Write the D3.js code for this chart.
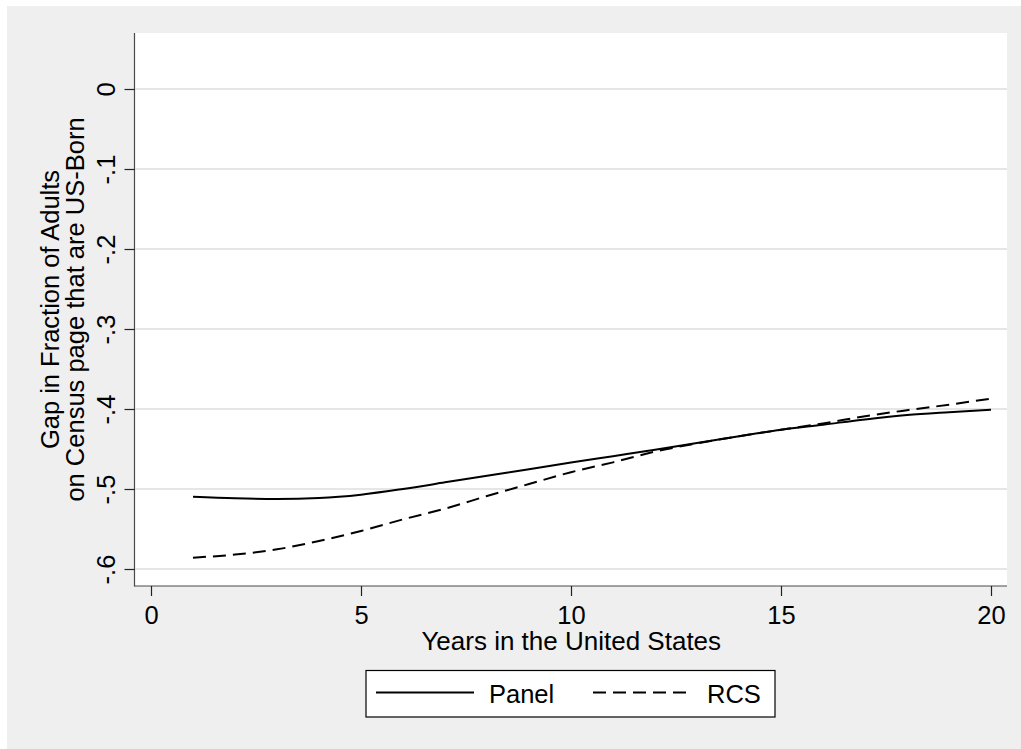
<!DOCTYPE html>
<html>
<head>
<meta charset="utf-8">
<script src="https://cdn.jsdelivr.net/npm/d3@7"></script>
<style>
  html, body { margin: 0; padding: 0; background: #ffffff; }
  svg { display: block; }
  text { font-family: "Liberation Sans", Arial, sans-serif; fill: #000; }
</style>
</head>
<body>
<svg id="chart" width="1021" height="749"></svg>
<script>
// Years since arrival
const years = [1, 2, 3, 4, 5, 6, 7, 8, 9, 10, 11, 12, 13, 14, 15, 16, 17, 18, 19, 20];

// Gap estimates, panel sample
const panel = [-0.5096, -0.5116, -0.5125, -0.5113, -0.5071, -0.5000, -0.4917, -0.4833, -0.4754, -0.4670,
               -0.4590, -0.4510, -0.4425, -0.4340, -0.4260, -0.4196, -0.4130, -0.4075, -0.4040, -0.4010];

// Gap estimates, repeated cross-section
const rcs = [-0.5858, -0.5820, -0.5754, -0.5650, -0.5525, -0.5380, -0.5246, -0.5088, -0.4938, -0.4790,
             -0.4667, -0.4533, -0.4430, -0.4340, -0.4260, -0.4180, -0.4090, -0.4015, -0.3946, -0.3870];

const xTicks = [0, 5, 10, 15, 20];
const yTicks = [-0.6, -0.5, -0.4, -0.3, -0.2, -0.1, 0];
const yTickLabels = ["-.6", "-.5", "-.4", "-.3", "-.2", "-.1", "0"];

const seriesNames = ["Panel", "RCS"];

const svg = d3.select("#chart");
const FONT = 25.5;

// plot region bounds
const plotLeft = 134.5, plotRight = 1007, plotTop = 33, plotBottom = 586;

// outer panel
svg.append("rect").attr("x", 7).attr("y", 6).attr("width", 1014).attr("height", 743).attr("fill", "#efefef");
svg.append("rect").attr("x", plotLeft).attr("y", plotTop).attr("width", plotRight - plotLeft)
  .attr("height", plotBottom - plotTop).attr("fill", "#ffffff");

const x = d3.scaleLinear().domain([0, 20]).range([151, 991]);
const y = d3.scaleLinear().domain([-0.6, 0]).range([569, 89]);

// horizontal grid
svg.append("g").selectAll("line").data(yTicks).join("line")
  .attr("x1", plotLeft + 1).attr("x2", plotRight)
  .attr("y1", d => y(d)).attr("y2", d => y(d))
  .attr("stroke", "#e6e6e6").attr("stroke-width", 2);

// axis lines
svg.append("line").attr("x1", plotLeft).attr("x2", plotLeft).attr("y1", plotTop).attr("y2", plotBottom + 0.5)
  .attr("stroke", "#4a4a4a").attr("stroke-width", 1.2);
svg.append("line").attr("x1", plotLeft).attr("x2", plotRight).attr("y1", plotBottom).attr("y2", plotBottom)
  .attr("stroke", "#4a4a4a").attr("stroke-width", 1.2);

// y axis
const yAxis = svg.append("g").attr("transform", `translate(${plotLeft},0)`)
  .call(d3.axisLeft(y).tickValues(yTicks).tickSize(10).tickSizeOuter(0)
    .tickFormat((d, i) => yTickLabels[i]));
yAxis.select(".domain").remove();
yAxis.selectAll(".tick line").attr("stroke", "#222").attr("stroke-width", 1.2);
yAxis.selectAll(".tick text")
  .attr("transform", "rotate(-90)")
  .attr("x", 0).attr("y", -19.5).attr("dy", 0)
  .attr("text-anchor", "middle")
  .style("font-size", FONT + "px")
  .style("font-family", '"Liberation Sans", Arial, sans-serif')
  .attr("fill", "#000");

// x axis
const xAxis = svg.append("g").attr("transform", `translate(0,${plotBottom})`)
  .call(d3.axisBottom(x).tickValues(xTicks).tickSize(10).tickSizeOuter(0).tickFormat(d3.format("d")));
xAxis.select(".domain").remove();
xAxis.selectAll(".tick line").attr("stroke", "#222").attr("stroke-width", 1.2);
xAxis.selectAll(".tick text")
  .attr("y", 38).attr("dy", 0)
  .style("font-size", FONT + "px")
  .style("font-family", '"Liberation Sans", Arial, sans-serif')
  .attr("fill", "#000");

// axis titles
svg.append("text").attr("x", (plotLeft + plotRight) / 2 + 0.5).attr("y", 650)
  .attr("text-anchor", "middle").style("font-size", "26px")
  .text("Years in the United States");

const yTitle = svg.append("g").attr("transform", `translate(0,${(plotTop + plotBottom) / 2}) rotate(-90)`);
yTitle.append("text").attr("x", 0).attr("y", 58.5).attr("text-anchor", "middle")
  .style("font-size", FONT + "px").text("Gap in Fraction of Adults");
yTitle.append("text").attr("x", 0).attr("y", 83.5).attr("text-anchor", "middle")
  .style("font-size", FONT + "px").text("on Census page that are US-Born");

// series lines
const line = d3.line().x(d => x(d[0])).y(d => y(d[1])).curve(d3.curveMonotoneX);
const series = [
  { name: seriesNames[0], values: panel, dash: null },
  { name: seriesNames[1], values: rcs, dash: "13,7" }
];

svg.append("g").selectAll("path").data(series).join("path")
  .attr("d", s => line(years.map((yr, i) => [yr, s.values[i]])))
  .attr("fill", "none").attr("stroke", "#000").attr("stroke-width", 2)
  .attr("stroke-dasharray", s => s.dash);

// legend
const lg = svg.append("g");
lg.append("rect").attr("x", 366).attr("y", 670.5).attr("width", 409).attr("height", 46.5)
  .attr("fill", "#fff").attr("stroke", "#000").attr("stroke-width", 1.2);
const legendItems = [
  { name: series[0].name, dash: null, x0: 376, x1: 474, tx: 489 },
  { name: series[1].name, dash: "13,7", x0: 593, x1: 691, tx: 707 }
];
legendItems.forEach(it => {
  lg.append("line").attr("x1", it.x0).attr("x2", it.x1).attr("y1", 692.5).attr("y2", 692.5)
    .attr("stroke", "#000").attr("stroke-width", 2).attr("stroke-dasharray", it.dash);
  lg.append("text").attr("x", it.tx).attr("y", 703).style("font-size", FONT + "px").text(it.name);
});
</script>
</body>
</html>
